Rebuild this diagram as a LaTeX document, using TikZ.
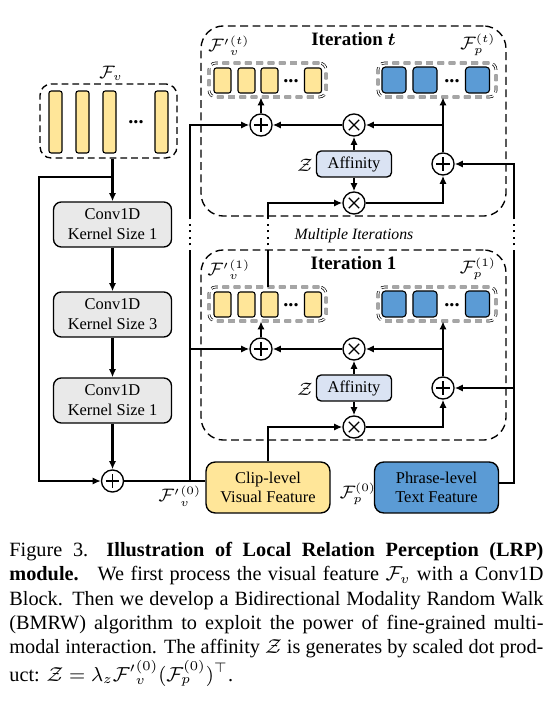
\documentclass[tikz,border=0pt]{standalone}
\usepackage{amsmath,amssymb}
\usepackage{bm}
\usepackage{fontspec}
\setmainfont{Liberation Serif}
\usetikzlibrary{arrows.meta}
\usepackage{xcolor}
\definecolor{featyellow}{HTML}{FFE699}
\definecolor{featblue}{HTML}{5B9BD5}
\definecolor{convgray}{HTML}{E9E9E9}
\definecolor{affblue}{HTML}{DAE3F3}

\begin{document}
\begin{tikzpicture}[
    x=0.444pt, y=-0.444pt,
    >={Latex[length=3.6pt,width=3.2pt]},
    conn/.style={line width=0.9pt},
    gap/.style={line width=0.9pt, dotted},
    convbox/.style={draw, line width=0.6pt, rounded corners=3.5pt, fill=convgray,
        minimum width=52.4pt, minimum height=20pt, align=center, inner sep=0pt,
        font=\fontsize{7.3}{8.8}\selectfont},
    featbox/.style={draw, line width=0.6pt, rounded corners=4pt,
        minimum width=55pt, minimum height=22.6pt, align=center, inner sep=0pt,
        font=\fontsize{7.3}{8.2}\selectfont},
    affbox/.style={draw, line width=0.6pt, rounded corners=2pt, fill=affblue,
        minimum width=33.3pt, minimum height=11.5pt, inner sep=0pt,
        font=\fontsize{7.3}{8.8}\selectfont},
    opnode/.style={circle, draw, line width=0.6pt, fill=white, minimum size=9.8pt, inner sep=0pt},
    plusop/.style={opnode, path picture={
        \draw[line width=0.75pt] ([yshift=-3pt]path picture bounding box.center) -- ([yshift=3pt]path picture bounding box.center)
            ([xshift=-3pt]path picture bounding box.center) -- ([xshift=3pt]path picture bounding box.center);}},
    timesop/.style={opnode, path picture={
        \draw[line width=0.5pt] ([shift={(-2.3pt,-2.3pt)}]path picture bounding box.center) -- ([shift={(2.3pt,2.3pt)}]path picture bounding box.center)
            ([shift={(-2.3pt,2.3pt)}]path picture bounding box.center) -- ([shift={(2.3pt,-2.3pt)}]path picture bounding box.center);}},
    iterbox/.style={draw, line width=0.6pt, dash pattern=on 3.5pt off 2pt, rounded corners=10pt,
        minimum width=135.4pt, minimum height=84.4pt, inner sep=0pt},
    fvgroup/.style={draw, line width=0.6pt, dash pattern=on 3pt off 1.8pt, rounded corners=5pt,
        minimum width=60.8pt, minimum height=32.9pt, inner sep=0pt},
    cellgroup/.style={draw, line width=0.3pt, densely dashed, double, double distance=0.6pt,
        rounded corners=3pt, minimum width=52pt, minimum height=15.1pt, inner sep=0pt},
    fvbar/.style={draw, line width=0.5pt, fill=featyellow, rounded corners=1pt,
        minimum width=5.8pt, minimum height=27.5pt, inner sep=0pt},
    vcell/.style={draw, line width=0.5pt, fill=featyellow, rounded corners=1pt,
        minimum width=7.5pt, minimum height=11.1pt, inner sep=0pt},
    pcell/.style={draw, line width=0.5pt, fill=featblue, rounded corners=1.5pt,
        minimum width=10.7pt, minimum height=11.5pt, inner sep=0pt},
    dotsl/.style={inner sep=0pt, font=\fontsize{9}{9}\selectfont\bfseries},
    lbl/.style={inner sep=0pt, font=\fontsize{7.6}{9}\selectfont},
    ttl/.style={inner sep=0pt, font=\fontsize{8.4}{10}\selectfont\bfseries},
]
\useasboundingbox (0,0) rectangle (551,702);

% input visual feature
\node[fvgroup] (fvgrp) at (108.5,121) {};
\foreach \x [count=\i] in {55.5,82.5,109.5,161.5}
    \node[fvbar] (bar\i) at (\x,122) {};
\node[dotsl] (fvdots) at (136,122) {...};
\node[lbl] (fvlbl) at (111,73) {$\mathcal{F}_v$};

% conv1d block
\node[convbox] (conv1) at (112.5,224.5) {Conv1D\\Kernel Size 1};
\node[convbox] (conv2) at (112.5,314.5) {Conv1D\\Kernel Size 3};
\node[convbox] (conv3) at (112.5,400.5) {Conv1D\\Kernel Size 1};
\node[plusop] (add0) at (112.5,481) {};
\coordinate (skipsplit) at (112.5,177);

\draw[conn,->] (fvgrp.south -| conv1.north) -- (conv1.north);
\draw[conn,->] (conv1) -- (conv2);
\draw[conn,->] (conv2) -- (conv3);
\draw[conn,->] (conv3) -- (add0);
\draw[conn,->] (skipsplit) -- ++(-73.5,0) |- (add0.west);

% features
\node[featbox, fill=featyellow] (clip) at (268,487.5) {Clip-level\\Visual Feature};
\node[featbox, fill=featblue] (phrase) at (436.5,487.5) {Phrase-level\\Text Feature};
\node[lbl] (clipl) at (180,496) {${\mathcal{F}'}_{v}^{(0)}$};
\node[lbl] (phrasel) at (358,494) {$\mathcal{F}_{p}^{(0)}$};

% iterations
\foreach \dy/\n/\tg/\title in {0/t/t/{$\bm{t}$}, 224/1/1/1}{
    \node[iterbox] (iter\n) at (353.5,121+\dy) {};
    \node[ttl] (ttl\n) at (353.5,39+\dy) {Iteration \title};
    \node[cellgroup] (vgrp\n) at (267.5,80+\dy) {};
    \foreach \x [count=\i] in {222.5,246.5,269.5,313}
        \node[vcell] (vc\n\i) at (\x,80.5+\dy) {};
    \node[dotsl] (vdots\n) at (291,81+\dy) {...};
    \node[cellgroup, minimum width=52.4pt] (pgrp\n) at (437,80+\dy) {};
    \foreach \x [count=\i] in {394,425,477.5}
        \node[pcell] (pc\n\i) at (\x,80+\dy) {};
    \node[dotsl] (pdots\n) at (452,81+\dy) {...};
    \node[lbl] (vlbl\n) at (229,46+\dy) {${\mathcal{F}'}_{v}^{(\tg)}$};
    \node[lbl] (plbl\n) at (478,45+\dy) {$\mathcal{F}_{p}^{(\tg)}$};

    \node[plusop] (add\n) at (261,125+\dy) {};
    \node[timesop] (mul\n) at (354,125+\dy) {};
    \node[plusop] (padd\n) at (443,164+\dy) {};
    \node[affbox] (aff\n) at (354,164+\dy) {Affinity};
    \node[lbl] (zlbl\n) at (305,165+\dy) {$\mathcal{Z}$};
    \node[timesop] (mulb\n) at (354,203+\dy) {};

    \draw[conn,->] (add\n.north) -- (add\n.north |- vgrp\n.south);
    \draw[conn,->] (mul\n) -- (add\n);
    \draw[conn,->] (padd\n.north) -- (padd\n.north |- pgrp\n.south);
    \draw[conn,->] (padd\n.north |- mul\n) -- (mul\n);
    \draw[conn,->] (aff\n) -- (mul\n);
    \draw[conn,->] (aff\n) -- (mulb\n);
    \draw[conn,->] (mulb\n) -| (padd\n);
}

\node[inner sep=0pt, font=\fontsize{7}{8.4}\selectfont\itshape] (multi) at (354,236) {Multiple Iterations};

% left path: visual feature
\coordinate (vsplit) at (190,481);
\coordinate (gapL1) at (190,252);
\coordinate (gapL2) at (190,218);
\draw[conn] (add0.east) -- (add0.east -| clip.west);
\draw[conn] (vsplit) -- (gapL1);
\draw[gap] (gapL1) -- (gapL2);
\draw[conn,->] (gapL2) |- (addt.west);
\draw[conn,->] (vsplit |- add1) -- (add1.west);

% middle path
\coordinate (gapM1) at (268,252);
\coordinate (gapM2) at (268,218);
\draw[conn,->] (clip.north) |- (mulb1.west);
\draw[conn] (vgrp1.north -| clip.north) -- (gapM1);
\draw[gap] (gapM1) -- (gapM2);
\draw[conn,->] (gapM2) |- (mulbt.west);

% right path: text feature
\coordinate (gapR1) at (514,252);
\coordinate (gapR2) at (514,218);
\draw[conn] ([yshift=2pt]phrase.east) -| (gapR1);
\draw[conn,->] (gapR1 |- padd1) -- (padd1.east);
\draw[gap] (gapR1) -- (gapR2);
\draw[conn,->] (gapR2) |- (paddt.east);

% caption
\node[anchor=north west, inner sep=0pt, text width=237.1pt, align=justify,
      font=\fontsize{9}{10.8}\selectfont] (caption) at (9,539)
{\strut Figure 3.\hspace{0.9em}\textbf{Illustration of Local Relation Perception (LRP)}\linebreak
\textbf{module.}\hspace{0.4em} We first process the visual feature $\mathcal{F}_v$ with a Conv1D\linebreak
Block. Then we develop a Bidirectional Modality Random Walk\linebreak
(BMRW) algorithm to exploit the power of fine-grained multi-\linebreak
modal interaction. The affinity $\mathcal{Z}$ is generates by scaled dot prod-\linebreak
uct: $\mathcal{Z}=\lambda_z{\mathcal{F}'}_{v}^{(0)}(\mathcal{F}_{p}^{(0)})^{\top}$.};

\end{tikzpicture}
\end{document}
